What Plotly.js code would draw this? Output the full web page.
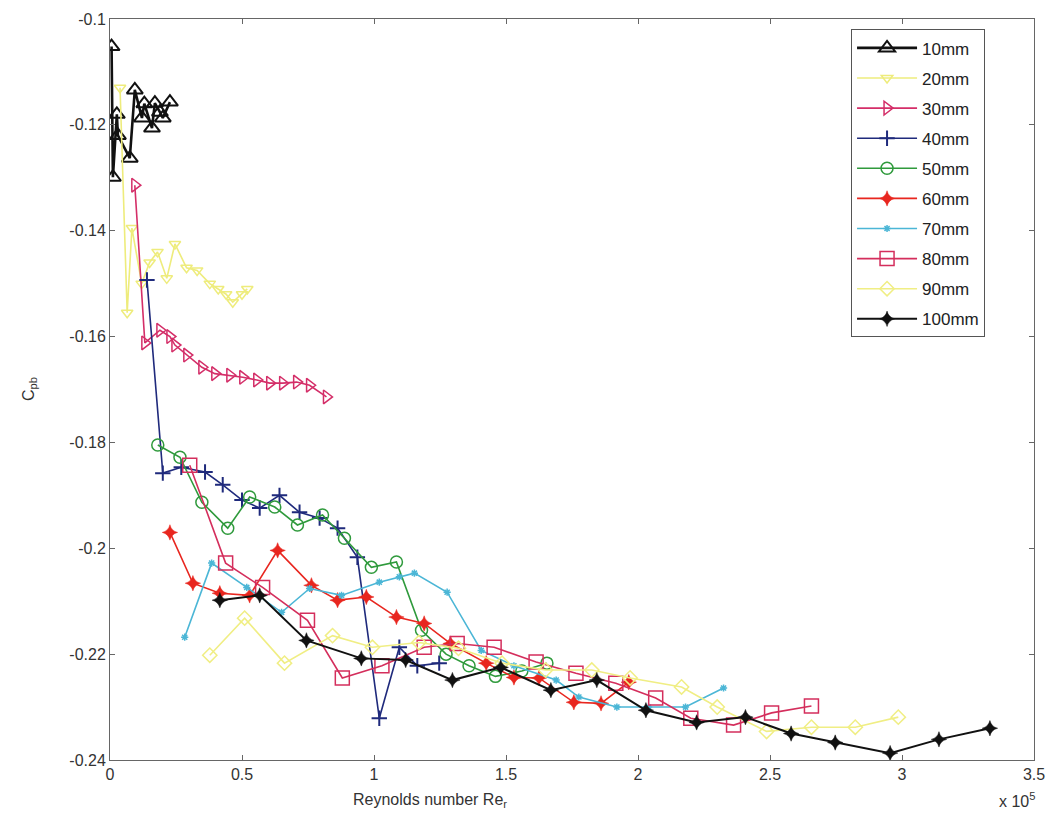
<!DOCTYPE html>
<html>
<head>
<meta charset="utf-8">
<script src="https://cdn.plot.ly/plotly-3.0.1.min.js"></script>
<style>html,body{margin:0;padding:0;background:#fff;}#chart{width:1055px;height:821px;}</style>
</head>
<body>
<div id="chart"></div>
<script>
// Reynolds number Re_r in units of 1e5, Cpb values
const seriesNames = ["10mm","20mm","30mm","40mm","50mm","60mm","70mm","80mm","90mm","100mm"];

const x10 = [0.006,0.011,0.026,0.03,0.075,0.094,0.121,0.13,0.159,0.17,0.189,0.2,0.227];
const y10 = [-0.1052,-0.1299,-0.118,-0.122,-0.1263,-0.1134,-0.1187,-0.116,-0.1206,-0.1159,-0.1176,-0.1187,-0.1157];

const x20 = [0.038,0.065,0.083,0.12,0.15,0.18,0.215,0.246,0.29,0.33,0.378,0.41,0.44,0.465,0.5,0.52];
const y20 = [-0.113,-0.1555,-0.1395,-0.150,-0.146,-0.144,-0.149,-0.1425,-0.147,-0.1475,-0.150,-0.151,-0.152,-0.1535,-0.152,-0.151];

const x30 = [0.094,0.132,0.189,0.227,0.246,0.291,0.348,0.397,0.454,0.503,0.556,0.605,0.654,0.707,0.756,0.82];
const y30 = [-0.1314,-0.1612,-0.1588,-0.160,-0.1616,-0.1635,-0.1658,-0.167,-0.1673,-0.1677,-0.1682,-0.1688,-0.1688,-0.1686,-0.1692,-0.1714];

const x40 = [0.14,0.2,0.27,0.36,0.427,0.5,0.567,0.642,0.718,0.794,0.862,0.937,1.02,1.096,1.164,1.247];
const y40 = [-0.1493,-0.1858,-0.1847,-0.1856,-0.188,-0.1909,-0.1924,-0.190,-0.1932,-0.1943,-0.1962,-0.2017,-0.2321,-0.2187,-0.2222,-0.2217];

const x50 = [0.181,0.265,0.348,0.446,0.529,0.624,0.71,0.805,0.888,0.99,1.085,1.18,1.273,1.36,1.46,1.56,1.655];
const y50 = [-0.1805,-0.1828,-0.1913,-0.1962,-0.1903,-0.1922,-0.1956,-0.1937,-0.1981,-0.2036,-0.2026,-0.2155,-0.2200,-0.2222,-0.2242,-0.2232,-0.2217];

const x60 = [0.227,0.314,0.416,0.529,0.635,0.763,0.862,0.971,1.085,1.19,1.29,1.425,1.53,1.625,1.757,1.86,1.965];
const y60 = [-0.197,-0.2066,-0.2085,-0.2089,-0.2004,-0.2070,-0.2098,-0.2092,-0.2130,-0.2142,-0.2180,-0.2217,-0.2244,-0.2245,-0.2291,-0.2293,-0.2253];

const x70 = [0.283,0.385,0.518,0.65,0.756,0.877,1.02,1.096,1.153,1.277,1.406,1.53,1.69,1.776,1.92,2.04,2.18,2.324];
const y70 = [-0.2168,-0.2028,-0.2074,-0.2121,-0.2076,-0.2089,-0.2064,-0.2054,-0.2047,-0.2083,-0.2193,-0.2222,-0.2249,-0.2281,-0.2300,-0.2300,-0.2300,-0.2264];

const x80 = [0.302,0.438,0.578,0.748,0.88,1.03,1.19,1.315,1.455,1.614,1.765,1.916,2.067,2.2,2.362,2.506,2.657];
const y80 = [-0.1843,-0.2028,-0.2074,-0.2136,-0.2245,-0.2222,-0.2187,-0.2180,-0.2187,-0.2215,-0.2236,-0.2255,-0.2283,-0.2321,-0.2334,-0.2311,-0.2298];

const x90 = [0.378,0.51,0.661,0.843,0.994,1.17,1.32,1.485,1.65,1.825,1.97,2.165,2.3,2.487,2.657,2.823,2.986];
const y90 = [-0.2202,-0.2132,-0.2217,-0.2165,-0.2187,-0.2178,-0.2189,-0.2217,-0.2230,-0.2230,-0.2245,-0.2262,-0.2300,-0.2346,-0.2338,-0.2338,-0.2319];

const x100 = [0.416,0.567,0.744,0.952,1.12,1.297,1.48,1.67,1.844,2.03,2.222,2.407,2.58,2.747,2.955,3.14,3.333];
const y100 = [-0.2098,-0.2089,-0.2174,-0.2208,-0.2211,-0.2249,-0.2225,-0.2268,-0.2249,-0.2306,-0.2329,-0.2319,-0.2350,-0.2367,-0.2387,-0.2361,-0.2340];

const xTickVals = [0,0.5,1,1.5,2,2.5,3,3.5];
const xTickText = ["0","0.5","1","1.5","2","2.5","3","3.5"];
const yTickVals = [-0.24,-0.22,-0.2,-0.18,-0.16,-0.14,-0.12,-0.1];
const yTickText = ["-0.24","-0.22","-0.2","-0.18","-0.16","-0.14","-0.12","-0.1"];

const xs = [x10,x20,x30,x40,x50,x60,x70,x80,x90,x100];
const ys = [y10,y20,y30,y40,y50,y60,y70,y80,y90,y100];

const styles = [
  {color:"#111111", width:2.6, symbol:"triangle-up-open", size:14, mlw:2},
  {color:"#eeec7c", width:1.6, symbol:"triangle-down-open", size:10, mlw:1.5},
  {color:"#d42e68", width:1.6, symbol:"triangle-right-open", size:12, mlw:1.5},
  {color:"#1f2a7c", width:1.6, symbol:"cross-thin-open", size:11, mlw:2},
  {color:"#2f9a3c", width:1.6, symbol:"circle-open", size:12, mlw:1.5},
  {color:"#e8261f", width:1.6, symbol:"star-diamond", size:11, mlw:0.5},
  {color:"#4bb6d6", width:1.6, symbol:"asterisk-open", size:6, mlw:1.5},
  {color:"#d42e5c", width:1.6, symbol:"square-open", size:14, mlw:1.5},
  {color:"#f0ee84", width:1.6, symbol:"diamond-open", size:11, mlw:1.5},
  {color:"#111111", width:2.0, symbol:"star-diamond", size:11, mlw:0.5}
];

const FONT = "Liberation Sans, Arial, sans-serif";

const traces = seriesNames.map((n,i)=>({
  type:"scatter", mode:"lines+markers", name:n, legendgroup:n,
  x: xs[i], y: ys[i],
  line:{color:styles[i].color, width:styles[i].width},
  marker:{symbol:styles[i].symbol, size:styles[i].size, color:styles[i].color,
          line:{color:styles[i].color, width:styles[i].mlw}}
}));

const axisCommon = {
  showgrid:false, zeroline:false, showline:true, mirror:"ticks",
  linecolor:"#666", linewidth:1, ticks:"inside", ticklen:5, tickcolor:"#666",
  tickfont:{family:FONT, size:16, color:"#333"}
};

const layout = {
  width:1055, height:821,
  margin:{l:110, r:21, t:19, b:61},
  paper_bgcolor:"#fff", plot_bgcolor:"#fff",
  showlegend:true,
  xaxis: Object.assign({}, axisCommon, {range:[0,3.5], tickmode:"array", tickvals:xTickVals, ticktext:xTickText}),
  yaxis: Object.assign({}, axisCommon, {range:[-0.24,-0.1], tickmode:"array", tickvals:yTickVals, ticktext:yTickText}),
  legend:{x:0.802, y:0.986, xanchor:"left", yanchor:"top", bgcolor:"#fff",
          bordercolor:"#555", borderwidth:1, itemwidth:60, tracegroupgap:5,
          font:{family:FONT, size:17, color:"#222"}},
  annotations:[
    {text:"Reynolds number Re<sub>r</sub>", xref:"paper", yref:"paper", x:0.346, y:-0.054,
     showarrow:false, xanchor:"center", yanchor:"middle",
     font:{family:FONT, size:16, color:"#333"}},
    {text:"x 10<sup>5</sup>", xref:"paper", yref:"paper", x:0.982, y:-0.054,
     showarrow:false, xanchor:"center", yanchor:"middle",
     font:{family:FONT, size:16, color:"#333"}},
    {text:"C<sub>pb</sub>", xref:"paper", yref:"paper", x:-0.087, y:0.5, textangle:-90,
     showarrow:false, xanchor:"center", yanchor:"middle",
     font:{family:FONT, size:16, color:"#333"}}
  ]
};

Plotly.newPlot("chart", traces, layout, {displayModeBar:false, staticPlot:true});
</script>
</body>
</html>
